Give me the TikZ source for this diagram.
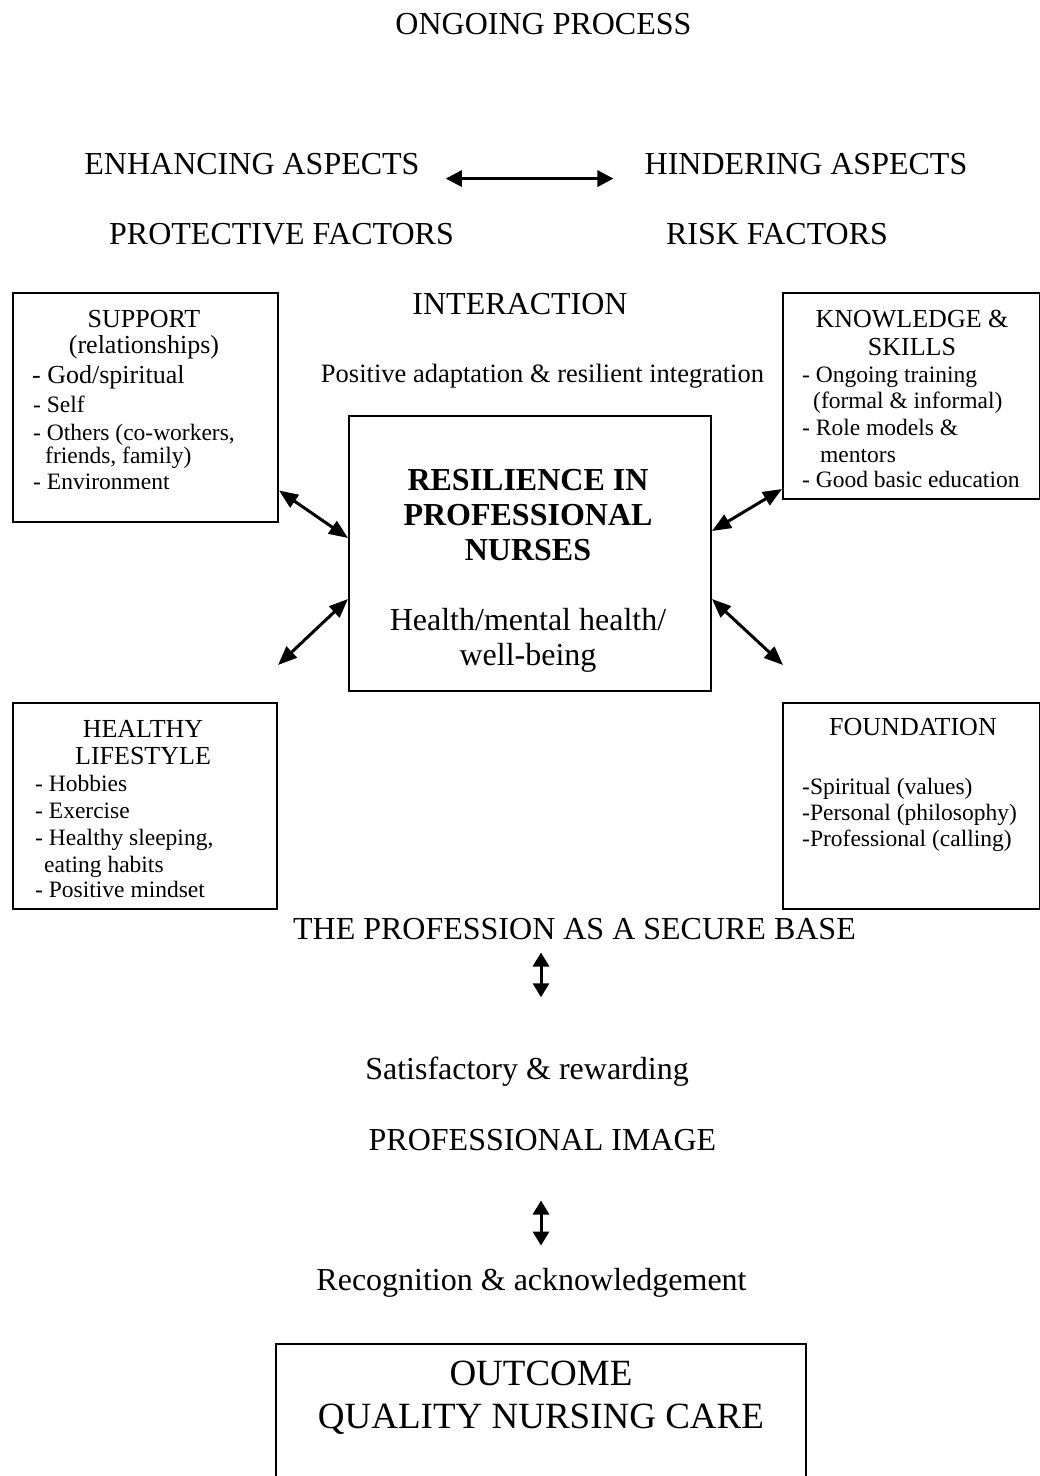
\documentclass[tikz,border=0pt]{standalone}
\usepackage{fontspec}
\setmainfont{Liberation Serif}
\usetikzlibrary{arrows.meta,calc}
\begin{document}
\begin{tikzpicture}[x=1pt,y=-1pt,
  box/.style={draw,line width=2pt,inner sep=0pt,anchor=north west},
  big/.style={inner sep=0pt,anchor=base,font=\fontsize{32}{36}\selectfont},
  mid/.style={inner sep=0pt,anchor=base,font=\fontsize{26.5}{30}\selectfont},
  hd/.style={inner sep=0pt,anchor=base,font=\fontsize{26}{30}\selectfont},
  itm/.style={inner sep=0pt,anchor=base west,font=\fontsize{23.5}{27}\selectfont},
  gitm/.style={inner sep=0pt,anchor=base west,font=\fontsize{26}{30}\selectfont},
  ctrb/.style={inner sep=0pt,anchor=base,font=\fontsize{32}{36}\selectfont\bfseries},
  outt/.style={inner sep=0pt,anchor=base,font=\fontsize{37}{42}\selectfont},
  dbl/.style={line width=3pt,{Triangle[length=16pt,width=16pt]}-{Triangle[length=16pt,width=16pt]}},
  dbld/.style={line width=3pt,{Triangle[length=19pt,width=15pt]}-{Triangle[length=19pt,width=15pt]}},
  dblv/.style={line width=3pt,{Triangle[length=14pt,width=16pt]}-{Triangle[length=14pt,width=16pt]}}
]
\useasboundingbox (0,0) rectangle (1040,1476);
\clip (0,0) rectangle (1040,1476);

% top labels
\node[big] (ong) at (543.5,34) {ONGOING PROCESS};
\node[big] (enh) at (252,174) {ENHANCING ASPECTS};
\node[big] (hin) at (806,174) {HINDERING ASPECTS};
\node[big] (pro) at (281.5,244) {PROTECTIVE FACTORS};
\node[big] (risk) at (777,244) {RISK FACTORS};
\node[big] (inter) at (520,314) {INTERACTION};
\node[mid] (pos) at (542.5,382) {Positive adaptation \& resilient integration};

% boxes
\node[box,minimum width=265pt,minimum height=229pt] (sup) at (12,292) {};
\node[box,minimum width=257pt,minimum height=206pt] (kn) at (782,292) {};
\node[box,minimum width=264pt,minimum height=206pt] (hl) at (12,702) {};
\node[box,minimum width=257pt,minimum height=206pt] (fd) at (782,702) {};
\node[box,minimum width=362pt,minimum height=275pt] (ctr) at (348,415) {};
\node[box,minimum width=530pt,minimum height=145pt] (out) at (275,1343) {};

% support
\node[hd] (s1) at (144,327) {SUPPORT};
\node[hd] (s2) at (144,353) {(relationships)};
\node[gitm] (s3) at (32,383) {- God/spiritual};
\node[itm] (s4) at (33,412) {- Self};
\node[itm] (s5) at (33,440) {- Others (co-workers,};
\node[itm] (s6) at (45,463) {friends, family)};
\node[itm] (s7) at (33,489) {- Environment};

% knowledge
\node[hd] (k1) at (912,327) {KNOWLEDGE \&};
\node[hd] (k2) at (912,355) {SKILLS};
\node[itm] (k3) at (802,382) {- Ongoing training};
\node[itm] (k4) at (813,408) {(formal \& informal)};
\node[itm] (k5) at (802,435) {- Role models \&};
\node[itm] (k6) at (820,462) {mentors};
\node[itm] (k7) at (802,487) {- Good basic education};

% healthy lifestyle
\node[hd] (h1) at (143,737) {HEALTHY};
\node[hd] (h2) at (143,764) {LIFESTYLE};
\node[itm] (h3) at (35,791) {- Hobbies};
\node[itm] (h4) at (35,818) {- Exercise};
\node[itm] (h5) at (35,845) {- Healthy sleeping,};
\node[itm] (h6) at (44,872) {eating habits};
\node[itm] (h7) at (35,897) {- Positive mindset};

% foundation
\node[hd] (f1) at (913,735) {FOUNDATION};
\node[itm] (f2) at (802,794) {-Spiritual (values)};
\node[itm] (f3) at (802,820) {-Personal (philosophy)};
\node[itm] (f4) at (802,846) {-Professional (calling)};

% centre
\node[ctrb] (c1) at (528,490) {RESILIENCE IN};
\node[ctrb] (c2) at (528,525) {PROFESSIONAL};
\node[ctrb] (c3) at (528,560) {NURSES};
\node[big] (c4) at (528,630) {Health/mental health/};
\node[big] (c5) at (528,665) {well-being};

% lower labels
\node[big] (tpb) at (574.5,939) {THE PROFESSION AS A SECURE BASE};
\node[big] (sat) at (527,1079) {Satisfactory \& rewarding};
\node[big] (img) at (542.5,1150) {PROFESSIONAL IMAGE};
\node[big] (rec) at (531.5,1290) {Recognition \& acknowledgement};
\node[outt] (o1) at (541,1385) {OUTCOME};
\node[outt] (o2) at (541,1428) {QUALITY NURSING CARE};

% connectors
\draw[dbl] ([xshift=26pt,yshift=-15pt]enh.east) -- ([xshift=-31pt,yshift=-15pt]hin.west);
\draw[dbld] ([yshift=-83pt]sup.east) -- ([yshift=15.5pt]ctr.west);
\draw[dbld] ([yshift=-93pt]kn.west) -- ([yshift=22.5pt]ctr.east);
\draw[dbld] ([yshift=37pt]hl.north east) -- ([yshift=-45.5pt]ctr.west);
\draw[dbld] ([xshift=1pt,yshift=37pt]fd.north west) -- ([yshift=-45.5pt]ctr.east);
\draw[dblv] ($(tpb.south)+(-33.5,13)$) -- ($(sat.north)+(14,-59)$);
\draw[dblv] ($(img.south)+(-1.5,50)$) -- ($(rec.north)+(9.5,-22)$);
\end{tikzpicture}
\end{document}
